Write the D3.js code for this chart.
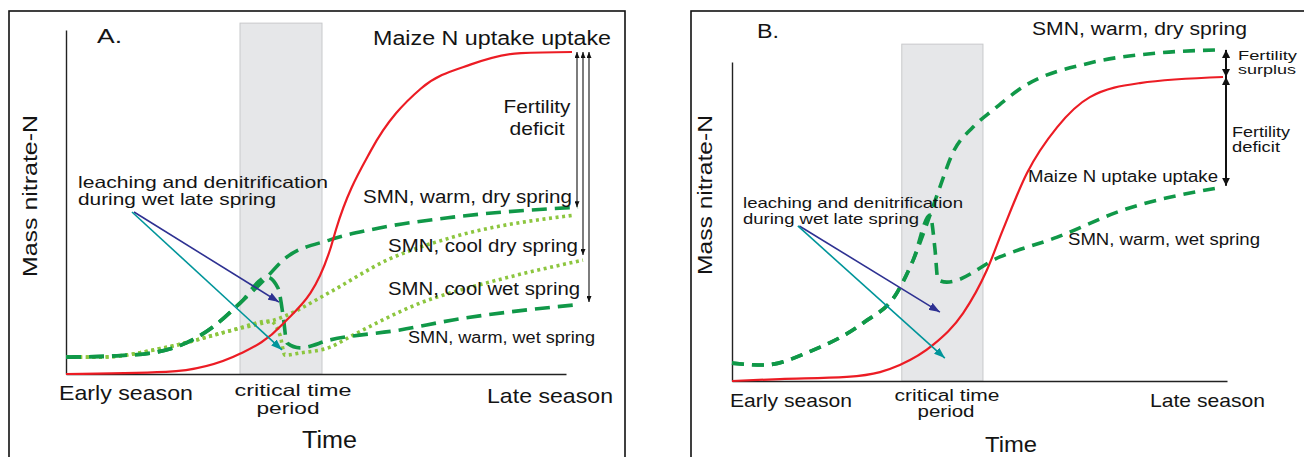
<!DOCTYPE html>
<html>
<head>
<meta charset="utf-8">
<script src="https://cdn.jsdelivr.net/npm/d3@7"></script>
<style>
  body { margin: 0; background: #fff; }
  svg { display: block; }
  text { font-family: "Liberation Sans", Arial, sans-serif; fill: #141414; }
</style>
</head>
<body>
<svg id="chart" width="1304" height="457"></svg>
<script>
// ---- data (x = season progress 0..100, y = relative mass nitrate-N 0..100)
const redA      = [[0,0],[20,0.6],[35,6],[43,14],[53,37],[54,42],[61,65],[71,83],[81,90],[91,93.3],[101.2,93.6]];
const warmDryA  = [[0,4.9],[13,5.5],[23,8.4],[29.4,13.7],[34.8,20.6],[40.2,28.2],[43.4,33.1],[52.8,39],[60.8,41.9],[77.4,45.6],[102.4,48.5]];
const warmWetA  = [[0,4.9],[13,5.5],[23,8.4],[29.4,13.7],[34.8,20.6],[40.2,28.2],[42.4,25],[43.4,17.2],[44.2,9],[46.8,7.6],[52.8,9.9],[66.8,12.8],[77.4,15.7],[101.8,20.1]];
const coolDryA  = [[0,4.9],[6.8,4.9],[20.2,7.8],[33.4,12.8],[43.4,16.6],[52.8,23.8],[64.2,33.1],[77.4,39.8],[101.8,46.2]];
const coolWetA  = [[0,4.9],[6.8,4.9],[20.2,7.8],[33.4,12.8],[40.8,15.4],[42.8,11.3],[43.8,5.5],[46.8,6.1],[52.8,7.8],[57.4,11.3],[70.8,20.6],[84.2,26.5],[103.4,33.1]];

const redB      = [[0,0],[9.7,0.6],[23.2,1.3],[29.9,2.8],[33.9,5],[40.6,11.3],[46.7,21.3],[51.5,34.8],[54.7,47.3],[59.6,65.2],[65.7,79.6],[72.3,89],[82.4,93.4],[99.2,95.3]];
const warmDryB  = [[0,5.6],[6.3,5],[16.4,9.7],[26.5,18.2],[33.3,27.6],[36.6,37.9],[40,52],[42,60.8],[44.6,71.5],[48.7,79.6],[52.7,84.9],[58.8,92.2],[72.3,99.7],[85.9,102.8],[98,103.8]];
const warmWetB  = [[0,5.6],[6.3,5],[16.4,9.7],[26.5,18.2],[33.3,27.6],[36.6,37.9],[40,52],[41,41.4],[41.6,31.7],[43.4,31],[54.1,38.9],[65.7,45.1],[79,53.6],[98,60.5]];

const criticalA = [34.8, 51.2, 102];
const criticalB = [34.3, 50.7, 105.6];

// leaching arrows: [x0, y0, x1, y1]
const leachA = [[13.6,47.1,42.6,20.9],[13.2,47.1,43.2,7.0]];
const leachB = [[13.6,48.6,42.0,21.6],[13.3,48.6,43.0,7.2]];

// fertility arrows: [x, yTop, yBottom]
const gapsA = [[102.2,93.6,48.5],[103.4,93.6,34.6],[104.6,93.6,20.9]];
const gapsB = [[99.8,103.8,95.3],[99.8,95.3,61.2]];

const svg = d3.select("#chart");
const defs = svg.append("defs");

function marker(id, color, len, wid) {
  defs.append("marker")
    .attr("id", id)
    .attr("viewBox", `0 ${-wid/2} ${len} ${wid}`)
    .attr("refX", len).attr("refY", 0)
    .attr("markerWidth", len).attr("markerHeight", wid)
    .attr("markerUnits", "userSpaceOnUse")
    .attr("orient", "auto-start-reverse")
    .append("path")
      .attr("d", `M0,${-wid/2}L${len},0L0,${wid/2}Z`)
      .attr("fill", color);
}
marker("headBlue", "#2e3192", 11, 8);
marker("headTeal", "#00959a", 11, 8);
marker("headBlk", "#111", 6, 5);
marker("headBlk2", "#111", 8, 8);

const GREEN = "#109848", LIME = "#8dc63f", RED = "#ec1c24";

function label(g, t) {
  const el = g.append("text")
    .attr("x", t.x).attr("y", t.y)
    .attr("font-size", t.s)
    .attr("text-anchor", t.a || "start")
    .text(t.txt);
  if (t.w) el.attr("textLength", t.w).attr("lengthAdjust", "spacingAndGlyphs");
  if (t.rot) el.attr("transform", `rotate(-90,${t.x},${t.y})`);
}

function panel(cfg) {
  const g = svg.append("g");
  g.append("rect")
    .attr("x", cfg.frame[0]).attr("y", cfg.frame[1])
    .attr("width", cfg.frame[2]).attr("height", cfg.frame[3])
    .attr("fill", "none").attr("stroke", "#111").attr("stroke-width", 1.6);

  const x = d3.scaleLinear().domain([0, 100]).range(cfg.xr);
  const y = d3.scaleLinear().domain([0, 100]).range(cfg.yr);

  g.append("rect")
    .attr("x", x(cfg.crit[0])).attr("y", y(cfg.crit[2]))
    .attr("width", x(cfg.crit[1]) - x(cfg.crit[0]))
    .attr("height", y(0) - y(cfg.crit[2]))
    .attr("fill", "#e6e7e9").attr("stroke", "#c8c9cb").attr("stroke-width", 1);

  g.append("g").attr("transform", `translate(0,${y(0)})`)
    .call(d3.axisBottom(x).ticks(0).tickSizeOuter(0))
    .select(".domain").attr("stroke", "#222").attr("stroke-width", 1.4);
  g.append("g").attr("transform", `translate(${x(0)},0)`)
    .call(d3.axisLeft(y).ticks(0).tickSizeOuter(0))
    .select(".domain").attr("stroke", "#222").attr("stroke-width", 1.4);

  const line = d3.line().x(d => x(d[0])).y(d => y(d[1])).curve(d3.curveMonotoneX);

  cfg.series.forEach(s => {
    g.append("path").datum(s.data)
      .attr("d", line)
      .attr("fill", "none")
      .attr("stroke", s.color)
      .attr("stroke-width", s.w)
      .attr("stroke-dasharray", s.dash || null);
  });

  cfg.gaps.forEach(d => {
    g.append("line")
      .attr("x1", x(d[0])).attr("x2", x(d[0]))
      .attr("y1", y(d[1])).attr("y2", y(d[2]))
      .attr("stroke", "#111").attr("stroke-width", cfg.gapW)
      .attr("marker-start", `url(#${cfg.gapHead})`)
      .attr("marker-end", `url(#${cfg.gapHead})`);
  });

  cfg.leach.forEach((d, i) => {
    g.append("line")
      .attr("x1", x(d[0])).attr("y1", y(d[1]))
      .attr("x2", x(d[2])).attr("y2", y(d[3]))
      .attr("stroke", i === 0 ? "#2e3192" : "#00959a")
      .attr("stroke-width", 1.6)
      .attr("marker-end", i === 0 ? "url(#headBlue)" : "url(#headTeal)");
  });

  cfg.labels.forEach(t => label(g, t));
}

panel({
  frame: [9, 11, 616, 470],
  xr: [66, 566], yr: [374, 30],
  crit: criticalA,
  series: [
    { data: coolDryA, color: LIME, w: 3.6, dash: "3,3.6" },
    { data: coolWetA, color: LIME, w: 3.6, dash: "3,3.6" },
    { data: warmDryA, color: GREEN, w: 3.6, dash: "15,8" },
    { data: warmWetA, color: GREEN, w: 3.6, dash: "15,8" },
    { data: redA, color: RED, w: 2.2 }
  ],
  gaps: gapsA, gapW: 1.1, gapHead: "headBlk",
  leach: leachA,
  labels: [
    { txt: "A.", x: 97, y: 43, s: 21, w: 25 },
    { txt: "Maize N uptake uptake", x: 373, y: 45, s: 20, w: 238 },
    { txt: "Fertility", x: 537, y: 113, s: 19, a: "middle", w: 67 },
    { txt: "deficit", x: 537, y: 135, s: 19, a: "middle", w: 55 },
    { txt: "leaching and denitrification", x: 78, y: 188, s: 16.5, w: 250 },
    { txt: "during wet late spring", x: 78, y: 205, s: 16.5, w: 198 },
    { txt: "SMN, warm, dry spring", x: 363, y: 203, s: 18, w: 209 },
    { txt: "SMN, cool dry spring", x: 388, y: 252, s: 18, w: 190 },
    { txt: "SMN, cool wet spring", x: 388, y: 295, s: 18, w: 192 },
    { txt: "SMN, warm, wet spring", x: 408, y: 343, s: 16, w: 187 },
    { txt: "Early season", x: 59, y: 400, s: 21, w: 134 },
    { txt: "critical time", x: 293, y: 396, s: 16.5, a: "middle", w: 117 },
    { txt: "period", x: 288, y: 414, s: 16.5, a: "middle", w: 63 },
    { txt: "Late season", x: 487, y: 403, s: 21, w: 126 },
    { txt: "Time", x: 302, y: 448, s: 23, w: 55 },
    { txt: "Mass nitrate-N", x: 37, y: 196, s: 21, a: "middle", w: 162, rot: true }
  ]
});

panel({
  frame: [691, 11, 700, 470],
  xr: [732, 1227], yr: [381, 62],
  crit: criticalB,
  series: [
    { data: warmDryB, color: GREEN, w: 3.6, dash: "12,8" },
    { data: warmWetB, color: GREEN, w: 3.6, dash: "12,8" },
    { data: redB, color: RED, w: 2.2 }
  ],
  gaps: gapsB, gapW: 2, gapHead: "headBlk2",
  leach: leachB,
  labels: [
    { txt: "B.", x: 757, y: 38, s: 20, w: 22 },
    { txt: "SMN, warm, dry spring", x: 1032, y: 35, s: 18, w: 215 },
    { txt: "Fertility", x: 1238, y: 60, s: 13.5, w: 59 },
    { txt: "surplus", x: 1238, y: 74, s: 13.5, w: 58 },
    { txt: "Fertility", x: 1232, y: 137, s: 14, w: 58 },
    { txt: "deficit", x: 1232, y: 152, s: 14, w: 48 },
    { txt: "Maize N uptake uptake", x: 1028, y: 182, s: 16, w: 190 },
    { txt: "SMN, warm, wet spring", x: 1068, y: 245, s: 16, w: 192 },
    { txt: "leaching and denitrification", x: 743, y: 208, s: 15, w: 220 },
    { txt: "during wet late spring", x: 743, y: 224, s: 15, w: 176 },
    { txt: "Early season", x: 730, y: 407, s: 19, w: 122 },
    { txt: "critical time", x: 947, y: 401, s: 16, a: "middle", w: 105 },
    { txt: "period", x: 946, y: 417, s: 16, a: "middle", w: 57 },
    { txt: "Late season", x: 1150, y: 407, s: 19, w: 115 },
    { txt: "Time", x: 985, y: 452, s: 22, w: 52 },
    { txt: "Mass nitrate-N", x: 712, y: 195, s: 20, a: "middle", w: 160, rot: true }
  ]
});
</script>
</body>
</html>
